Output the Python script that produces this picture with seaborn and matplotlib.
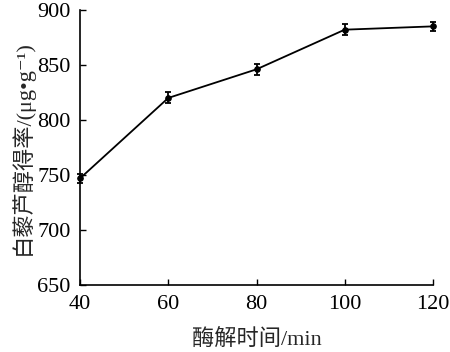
import matplotlib
matplotlib.use("Agg")
import matplotlib.pyplot as plt
import seaborn as sns
import pandas as pd

# ========================================================
# Data
# ========================================================
time_min = [40, 60, 80, 100, 120]
yield_ug = [747, 820, 846, 882, 885]
yield_err = [4, 5, 5, 5, 4]

df = pd.DataFrame({"time": time_min, "yield": yield_ug, "err": yield_err})

sns.set_style("ticks")
plt.rcParams["font.family"] = ["Liberation Serif", "Noto Sans CJK SC", "DejaVu Sans"]
plt.rcParams["font.size"] = 16

fig = plt.figure(figsize=(4.5, 3.52), dpi=100)
ax = fig.add_axes([0.178, 0.19, 0.784, 0.782])

sns.lineplot(data=df, x="time", y="yield", ax=ax, color="black", linewidth=1.3,
             marker="o", markersize=4, markeredgecolor="black", clip_on=False)
ax.errorbar(df["time"], df["yield"], yerr=df["err"], fmt="none", ecolor="black",
            elinewidth=1.3, capsize=2.5, capthick=1.3, clip_on=False)

ax.set_xlim(40, 120)
ax.set_ylim(650, 900)
ax.set_xticks([40, 60, 80, 100, 120])
ax.set_yticks([650, 700, 750, 800, 850, 900])
ax.tick_params(direction="in", length=4, width=1, labelsize=16, pad=7, colors="black")
ax.set_xlabel("酶解时间/min", fontsize=16, labelpad=11)
ax.set_ylabel("白藜芦醇得率/(μg•g⁻¹)", fontsize=16, labelpad=2)
sns.despine(ax=ax)
for s in ["left", "bottom"]:
    ax.spines[s].set_linewidth(1.2)
    ax.spines[s].set_color("black")

fig.savefig("out.png", dpi=100)
